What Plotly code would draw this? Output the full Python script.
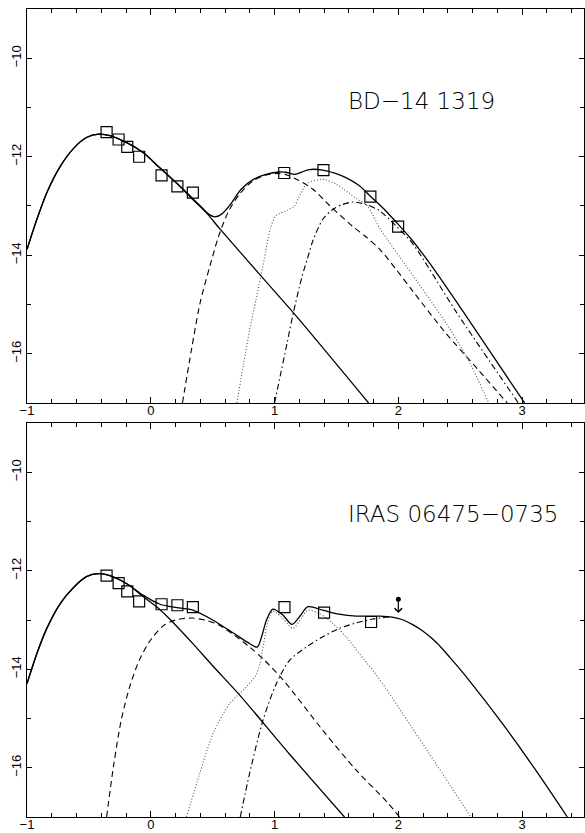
import plotly.graph_objects as go
from plotly.subplots import make_subplots

# ---------------- Top panel: BD-14 1319 ----------------
top_obs_x = [-0.357, -0.26, -0.19, -0.094, 0.087, 0.215, 0.34, 1.078, 1.395, 1.774, 1.998]
top_obs_y = [-11.50, -11.65, -11.80, -12.00, -12.38, -12.60, -12.73, -12.33, -12.27, -12.81, -13.42]

top_star_x = [-1.0, -0.92, -0.84, -0.73, -0.62, -0.52, -0.42, -0.33, -0.19, -0.06, 0.075, 0.21, 0.34, 0.45, 0.56, 0.89, 1.16, 1.76]
top_star_y = [-13.88, -13.27, -12.73, -12.19, -11.82, -11.61, -11.54, -11.57, -11.72, -11.92, -12.23, -12.54, -12.87, -13.14, -13.47, -14.42, -15.19, -17.0]

top_total_x = [-1.0, -0.92, -0.84, -0.73, -0.62, -0.52, -0.42, -0.33, -0.19, -0.06, 0.075, 0.21, 0.34, 0.42, 0.47, 0.52, 0.58, 0.64, 0.73, 0.83, 0.93, 1.04, 1.10, 1.16, 1.22, 1.28, 1.39, 1.48, 1.58, 1.68, 1.77, 1.88, 1.98, 2.10, 2.25, 2.52, 2.79, 3.02]
top_total_y = [-13.88, -13.27, -12.73, -12.19, -11.82, -11.61, -11.54, -11.57, -11.72, -11.92, -12.23, -12.54, -12.85, -13.05, -13.17, -13.22, -13.15, -12.98, -12.66, -12.46, -12.36, -12.31, -12.32, -12.36, -12.31, -12.26, -12.27, -12.33, -12.43, -12.58, -12.79, -13.05, -13.32, -13.66, -14.15, -15.13, -16.14, -17.0]

top_dash_x = [0.256, 0.33, 0.40, 0.48, 0.55, 0.63, 0.72, 0.82, 0.92, 1.02, 1.10, 1.18, 1.31, 1.44, 1.63, 1.74, 1.85, 1.98, 2.12, 2.38, 2.65, 2.88]
top_dash_y = [-17.0, -15.9, -14.95, -14.2, -13.6, -13.1, -12.75, -12.5, -12.38, -12.34, -12.37, -12.46, -12.66, -12.98, -13.41, -13.63, -13.88, -14.28, -14.74, -15.57, -16.34, -17.0]

top_dot_x = [0.696, 0.75, 0.80, 0.85, 0.89, 0.93, 0.965, 1.01, 1.09, 1.16, 1.20, 1.27, 1.36, 1.40, 1.50, 1.66, 1.75, 1.85, 2.12, 2.38, 2.56, 2.73]
top_dot_y = [-17.0, -16.2, -15.5, -14.9, -14.42, -13.9, -13.47, -13.2, -13.1, -13.0, -12.8, -12.53, -12.47, -12.46, -12.56, -12.85, -13.0, -13.45, -14.42, -15.36, -16.1, -17.0]

top_dd_x = [1.0, 1.05, 1.10, 1.15, 1.22, 1.28, 1.31, 1.39, 1.47, 1.55, 1.63, 1.74, 1.85, 1.98, 2.12, 2.47, 2.97]
top_dd_y = [-17.0, -16.4, -15.8, -15.19, -14.45, -13.95, -13.70, -13.27, -13.07, -12.97, -12.92, -12.97, -13.10, -13.40, -13.78, -15.16, -17.0]

# ---------------- Bottom panel: IRAS 06475-0735 ----------------
bot_obs_x = [-0.357, -0.26, -0.19, -0.094, 0.087, 0.215, 0.34, 1.08, 1.40, 1.78]
bot_obs_y = [-12.10, -12.25, -12.42, -12.62, -12.68, -12.70, -12.74, -12.74, -12.85, -13.04]

bot_limit_x = [2.0]
bot_limit_y = [-12.58]
bot_limit_tip = [-12.86]

bot_star_x = [-1.0, -0.92, -0.84, -0.73, -0.62, -0.52, -0.42, -0.33, -0.19, -0.06, 0.075, 0.18, 0.34, 0.50, 0.72, 1.12, 1.565]
bot_star_y = [-14.29, -13.68, -13.17, -12.66, -12.33, -12.12, -12.06, -12.10, -12.27, -12.53, -12.79, -13.05, -13.48, -13.93, -14.53, -15.72, -17.0]

bot_total_x = [-1.0, -0.92, -0.84, -0.73, -0.62, -0.52, -0.42, -0.33, -0.19, -0.06, 0.075, 0.21, 0.34, 0.50, 0.67, 0.78, 0.86, 0.90, 0.935, 0.986, 1.067, 1.14, 1.20, 1.27, 1.39, 1.52, 1.66, 1.85, 1.95, 2.04, 2.12, 2.20, 2.31, 2.42, 2.57, 2.84, 3.11, 3.365]
bot_total_y = [-14.29, -13.68, -13.17, -12.66, -12.33, -12.12, -12.06, -12.10, -12.27, -12.50, -12.68, -12.75, -12.80, -13.0, -13.27, -13.45, -13.55, -13.30, -13.0, -12.78, -12.90, -13.09, -12.94, -12.73, -12.80, -12.88, -12.92, -12.92, -12.94, -13.0, -13.10, -13.23, -13.46, -13.77, -14.22, -15.10, -16.05, -17.0]

bot_dash_x = [-0.357, -0.30, -0.24, -0.17, -0.09, 0.0, 0.1, 0.2, 0.33, 0.45, 0.55, 0.67, 0.8, 0.92, 1.07, 1.39, 1.66, 1.91, 2.01]
bot_dash_y = [-17.0, -15.95, -15.05, -14.35, -13.8, -13.4, -13.12, -13.0, -12.96, -13.01, -13.1, -13.3, -13.55, -13.82, -14.22, -15.24, -16.05, -16.7, -17.0]

bot_dot_x = [0.288, 0.395, 0.503, 0.637, 0.772, 0.85, 0.88, 0.91, 0.94, 0.986, 1.067, 1.148, 1.215, 1.269, 1.363, 1.47, 1.578, 1.685, 1.793, 1.90, 2.035, 2.304, 2.586]
bot_dot_y = [-17.0, -16.12, -15.31, -14.70, -14.36, -14.12, -13.9, -13.5, -13.1, -12.82, -12.97, -13.17, -12.97, -12.80, -12.87, -13.07, -13.34, -13.68, -14.02, -14.39, -14.90, -15.92, -17.0]

bot_dd_x = [0.723, 0.798, 0.906, 1.013, 1.121, 1.256, 1.39, 1.524, 1.659, 1.793, 1.927]
bot_dd_y = [-17.0, -16.12, -15.04, -14.3, -13.82, -13.55, -13.34, -13.17, -13.06, -12.98, -12.94]

labels = ["BD\u221214 1319", "IRAS 06475\u22120735"]

fig = make_subplots(rows=2, cols=1, vertical_spacing=0.0)

FONT = "Liberation Sans"
LABEL_FONT = "DejaVu Sans ExtraLight, DejaVu Sans Light, DejaVu Sans"


def add_panel(row, star, total, dash, dot, dd, obs):
    def line(xy, dash_style, color="black", width=1.3):
        fig.add_trace(go.Scatter(x=xy[0], y=xy[1], mode="lines",
                                 line=dict(color=color, width=width, dash=dash_style,
                                           shape="spline", smoothing=0.8),
                                 showlegend=False, hoverinfo="skip"), row=row, col=1)
    line(dash, "6px,4px", width=1.1)
    line(dot, "1px,2px", color="#555555", width=1.1)
    line(dd, "6px,3px,1.5px,3px", width=1.1)
    line(star, "solid")
    line(total, "solid")
    fig.add_trace(go.Scatter(x=obs[0], y=obs[1], mode="markers",
                             marker=dict(symbol="square-open", size=11,
                                         color="black", line=dict(width=1.2)),
                             showlegend=False), row=row, col=1)


add_panel(1, (top_star_x, top_star_y), (top_total_x, top_total_y),
          (top_dash_x, top_dash_y), (top_dot_x, top_dot_y), (top_dd_x, top_dd_y),
          (top_obs_x, top_obs_y))
add_panel(2, (bot_star_x, bot_star_y), (bot_total_x, bot_total_y),
          (bot_dash_x, bot_dash_y), (bot_dot_x, bot_dot_y), (bot_dd_x, bot_dd_y),
          (bot_obs_x, bot_obs_y))

# upper limit
fig.add_trace(go.Scatter(x=bot_limit_x, y=bot_limit_y, mode="markers",
                         marker=dict(symbol="circle", size=5, color="black"),
                         showlegend=False), row=2, col=1)
for lx, ly, lt in zip(bot_limit_x, bot_limit_y, bot_limit_tip):
    fig.add_annotation(x=lx, y=lt, ax=lx, ay=ly, xref="x2", yref="y2",
                       axref="x2", ayref="y2", showarrow=True, arrowhead=4,
                       arrowsize=1.2, arrowwidth=1.2, arrowcolor="black", text="")

# panel labels
fig.add_annotation(x=1.58, y=-10.86, xref="x", yref="y", text=labels[0],
                   showarrow=False, xanchor="left", yanchor="middle",
                   font=dict(family=LABEL_FONT, size=23, color="black"))
fig.add_annotation(x=1.58, y=-10.85, xref="x2", yref="y2", text=labels[1],
                   showarrow=False, xanchor="left", yanchor="middle",
                   font=dict(family=LABEL_FONT, size=23, color="black"))

axis_common = dict(showline=True, linecolor="black", linewidth=1, mirror="allticks",
                   ticks="inside", tickcolor="black", showgrid=False, zeroline=False,
                   tickfont=dict(family=FONT, size=13, color="black"))

for r, dom in [(1, [0.5124, 1.0]), (2, [0.0, 0.4876])]:
    fig.update_xaxes(range=[-1, 3.5], tick0=0, dtick=1, ticklen=6, ticklabelstandoff=-5,
                     minor=dict(dtick=0.2, ticklen=4, ticks="inside", tickcolor="black", showgrid=False),
                     row=r, col=1, **axis_common)
    fig.update_yaxes(range=[-17, -9], tick0=-10, dtick=2, ticklen=5, tickangle=-90,
                     minor=dict(dtick=1, ticklen=4, ticks="inside", tickcolor="black", showgrid=False),
                     domain=dom, row=r, col=1, **axis_common)

fig.update_xaxes(domain=[0, 1])

fig.update_layout(width=585, height=833,
                  margin=dict(l=27, r=1, t=9, b=16),
                  plot_bgcolor="white", paper_bgcolor="white",
                  font=dict(family=FONT, color="black"))

fig.write_html("out.html", config={"displayModeBar": False},
               post_script="document.body.style.margin='0';document.body.style.overflow='hidden';")
